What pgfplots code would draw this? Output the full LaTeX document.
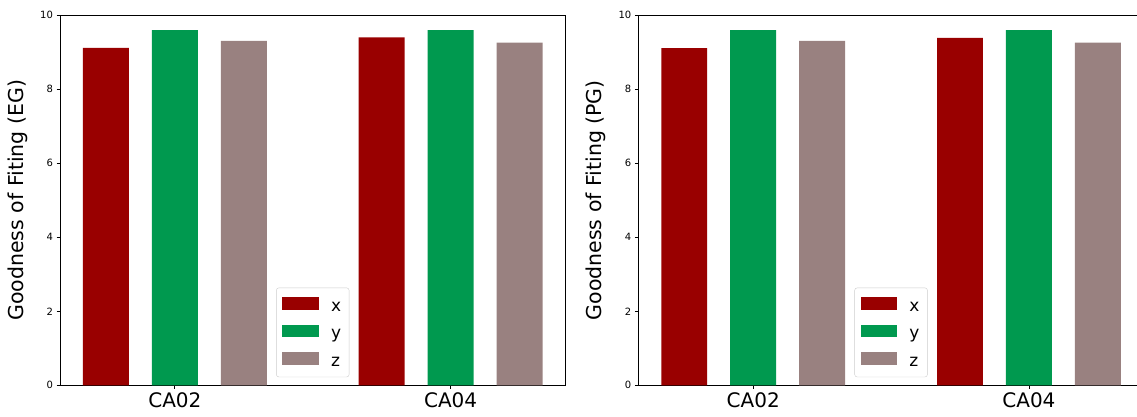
\documentclass[border=0pt]{standalone}
\usepackage{pgfplots}
\pgfplotsset{compat=1.18}
\usepackage{fontspec}
\setmainfont{DejaVu Sans}
\definecolor{xcol}{RGB}{153,0,0}
\definecolor{ycol}{RGB}{0,153,79}
\definecolor{zcol}{RGB}{153,129,128}
\pgfplotsset{
  myaxis/.style={
    scale only axis,
    width=505.5pt, height=370pt,
    xmin=-1.6667, xmax=5.6667,
    ymin=0, ymax=10,
    ytick={0,2,4,6,8,10},
    xtick={0,4},
    xticklabels={CA02,CA04},
    xtick pos=bottom, ytick pos=left,
    tick align=outside,
    major tick length=3.5pt,
    every tick/.style={black, line width=0.8pt},
    axis line style={black, line width=0.8pt},
    /pgf/number format/assume math mode=true,
    yticklabel style={font=\fontsize{10}{12}\selectfont},
    xticklabel style={font=\fontsize{20}{24}\selectfont},
    ylabel style={font=\fontsize{20.5}{24}\selectfont, at={(axis description cs:-0.063,0.5)}, anchor=south, inner sep=0pt},
    legend style={at={(0.5,0.022)}, anchor=south, draw=black!20, rounded corners=2.5pt, fill=white,
      font=\fontsize{17}{20}\selectfont,
      inner xsep=6pt, inner ysep=7.3pt,
      nodes={inner sep=2pt, text height=14pt, text depth=1.3pt, sharp corners},
      row sep=8.3pt, column sep=10pt},
    legend cell align=left,
  },
}
\begin{document}
\begin{tikzpicture}
\path[use as bounding box] (0,0) rectangle (1137pt,417pt);
\begin{axis}[myaxis, at={(60pt,31.7pt)}, anchor=south west, ylabel={Goodness of Fiting (EG)}]
\addplot[ybar, bar width=0.6667, bar shift=0pt, fill=xcol, draw=none,
  legend image code/.code={\fill[xcol, sharp corners] (0pt,-5pt) rectangle (36.7pt,7.7pt);}]
  coordinates {(-1,9.12) (3,9.40)};
\addplot[ybar, bar width=0.6667, bar shift=0pt, fill=ycol, draw=none,
  legend image code/.code={\fill[ycol, sharp corners] (0pt,-5pt) rectangle (36.7pt,7.7pt);}]
  coordinates {(0,9.60) (4,9.60)};
\addplot[ybar, bar width=0.6667, bar shift=0pt, fill=zcol, draw=none,
  legend image code/.code={\fill[zcol, sharp corners] (0pt,-5pt) rectangle (36.7pt,7.7pt);}]
  coordinates {(1,9.31) (5,9.26)};
\legend{x,y,z}
\end{axis}
\begin{axis}[myaxis, at={(638.3pt,31.7pt)}, anchor=south west, ylabel={Goodness of Fiting (PG)}]
\addplot[ybar, bar width=0.6667, bar shift=0pt, fill=xcol, draw=none,
  legend image code/.code={\fill[xcol, sharp corners] (0pt,-5pt) rectangle (36.7pt,7.7pt);}]
  coordinates {(-1,9.11) (3,9.39)};
\addplot[ybar, bar width=0.6667, bar shift=0pt, fill=ycol, draw=none,
  legend image code/.code={\fill[ycol, sharp corners] (0pt,-5pt) rectangle (36.7pt,7.7pt);}]
  coordinates {(0,9.60) (4,9.60)};
\addplot[ybar, bar width=0.6667, bar shift=0pt, fill=zcol, draw=none,
  legend image code/.code={\fill[zcol, sharp corners] (0pt,-5pt) rectangle (36.7pt,7.7pt);}]
  coordinates {(1,9.31) (5,9.26)};
\legend{x,y,z}
\end{axis}
\end{tikzpicture}
\end{document}
